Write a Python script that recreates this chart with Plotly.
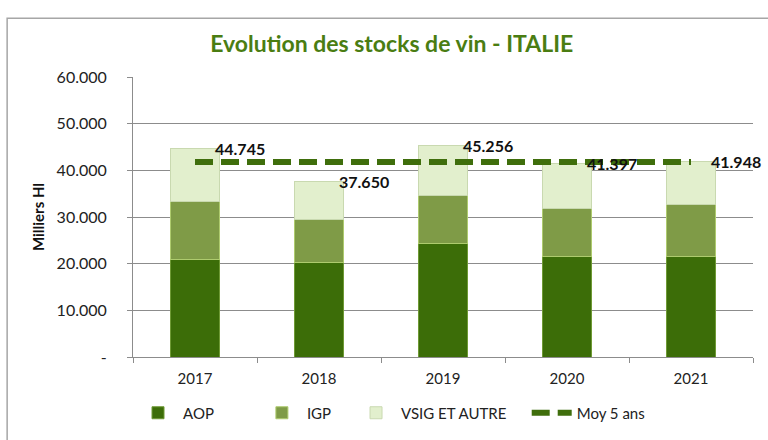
import plotly.graph_objects as go

years = ["2017", "2018", "2019", "2020", "2021"]
aop = [20.8, 20.2, 24.4, 21.6, 21.5]
igp = [12.5, 9.3, 10.2, 10.2, 11.1]
vsig = [11.445, 8.15, 10.656, 9.597, 9.348]
totals = [44.745, 37.650, 45.256, 41.397, 41.948]
total_labels = ["44.745", "37.650", "45.256", "41.397", "41.948"]
moy5 = [41.8, 41.8, 41.8, 41.8, 41.8]
ytick_vals = [0, 10, 20, 30, 40, 50, 60]
ytick_text = ["-", "10.000", "20.000", "30.000", "40.000", "50.000", "60.000"]

FONT = "Lato"
NB = "\u00a0"
fig = go.Figure()
fig.add_trace(go.Bar(x=years, y=aop, name="AOP" + NB * 10,
                     marker=dict(color="#3c6d08", line=dict(color="#6f9a35", width=1))))
fig.add_trace(go.Bar(x=years, y=igp, name="IGP" + NB * 4,
                     marker=dict(color="#7f9b47", line=dict(color="#aecb6e", width=1))))
fig.add_trace(go.Bar(x=years, y=vsig, name="VSIG ET AUTRE" + NB * 4,
                     marker=dict(color="#e2efcd", line=dict(color="#c9d9b0", width=1))))
fig.add_trace(go.Scatter(x=years, y=moy5, name="Moy 5 ans", mode="lines",
                         line=dict(color="#3f6e0c", width=6, dash="18px,8px")))

# category axis positions are serial indices
for i, (t, lab) in enumerate(zip(totals, total_labels)):
    fig.add_annotation(x=i, y=t, text="<b>" + lab + "</b>", showarrow=False,
                       xanchor="left", yanchor="middle", xshift=18,
                       font=dict(family=FONT, size=16, color="#111111"))

# outer chart border
fig.add_shape(type="rect", xref="paper", yref="paper",
              x0=-0.203, x1=1.04, y0=-0.32, y1=1.21,
              line=dict(color="#a6a6a6", width=1.5), fillcolor="rgba(0,0,0,0)", layer="below")

fig.update_layout(
    width=768, height=440,
    margin=dict(l=133, r=15, t=77, b=83, autoexpand=False),
    paper_bgcolor="white", plot_bgcolor="white",
    barmode="stack", bargap=0.61,
    font=dict(family=FONT, size=15, color="#222222"),
    title=dict(text="<b>Evolution des stocks de vin - ITALIE</b>", x=0.51, xanchor="center",
               yref="container", y=0.9, yanchor="middle", automargin=False,
               font=dict(family=FONT, size=23, color="#4a7d12")),
    showlegend=True,
    legend=dict(orientation="h", x=0.0, xanchor="left", y=-0.2, yanchor="middle",
                font=dict(family=FONT, size=15, color="#222222"),
                traceorder="normal", itemwidth=40),
)
fig.update_xaxes(type="category", range=[-0.5, 4.5], automargin=False,
                 showline=True, linecolor="#8c8c8c", linewidth=1,
                 ticks="outside", ticklen=5, tickcolor="#8c8c8c", tickson="boundaries",
                 ticklabelstandoff=8,
                 tickfont=dict(family=FONT, size=15, color="#222222"), showgrid=False)
fig.update_yaxes(range=[0, 60], tickvals=ytick_vals, ticktext=ytick_text, automargin=False,
                 showline=True, linecolor="#8c8c8c", linewidth=1,
                 ticks="outside", ticklen=5, tickcolor="#8c8c8c", ticklabelstandoff=17,
                 showgrid=True, gridcolor="#8c8c8c", gridwidth=1, zeroline=False,
                 tickfont=dict(family=FONT, size=16, color="#222222"),
                 title=dict(text="<b>Milliers Hl</b>", font=dict(family=FONT, size=15, color="#111111"),
                            standoff=8))
fig.write_html("out.html", config={"displayModeBar": False},
               post_script="document.body.style.margin='0';")
